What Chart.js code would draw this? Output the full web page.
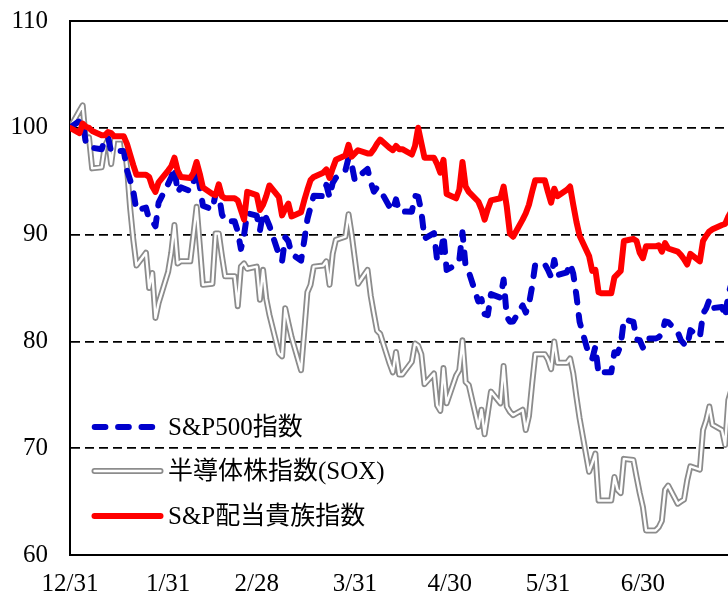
<!DOCTYPE html>
<html><head><meta charset="utf-8">
<script src="https://cdn.jsdelivr.net/npm/chart.js@4.4.1/dist/chart.umd.min.js"></script>
<style>
html,body{margin:0;padding:0;background:#fff;overflow:hidden;}
#wrap{position:relative;width:760px;height:593px;}
#c{position:absolute;left:0;top:0;}
.lg{position:absolute;left:0;top:0;width:760px;height:593px;pointer-events:none;}
.lt{position:absolute;left:168px;font-size:25px;line-height:30px;font-family:"Liberation Serif","Noto Sans CJK JP",serif;color:#000;white-space:nowrap;}
</style></head>
<body>
<div id="wrap">
<canvas id="c" width="760" height="593"></canvas>
<svg class="lg" width="760" height="593" xmlns="http://www.w3.org/2000/svg">
 <line x1="94.7" y1="427" x2="160" y2="427" stroke="#0000cc" stroke-width="6" stroke-linecap="round" stroke-dasharray="10.7 12.7"/>
 <line x1="94.5" y1="471" x2="160.5" y2="471" stroke="#8c8c8c" stroke-width="6" stroke-linecap="round"/>
 <line x1="94.5" y1="471" x2="160.5" y2="471" stroke="#ffffff" stroke-width="2.4" stroke-linecap="round"/>
 <line x1="94.5" y1="516" x2="160.5" y2="516" stroke="#ff0000" stroke-width="6" stroke-linecap="round"/>
</svg>
<div class="lt" style="top:412px">S&amp;P500指数</div>
<div class="lt" style="top:456px">半導体株指数(SOX)</div>
<div class="lt" style="top:501px">S&amp;P配当貴族指数</div>
</div>
<script>
// calendar days since 2021-12-31 (weekdays, holidays carried forward)
const days = [0,
3,4,5,6,7, 10,11,12,13,14, 17,18,19,20,21, 24,25,26,27,28,
31,32,33,34,35, 38,39,40,41,42, 45,46,47,48,49, 52,53,54,55,56,
59,60,61,62,63, 66,67,68,69,70, 73,74,75,76,77, 80,81,82,83,84,
87,88,89,90,91, 94,95,96,97,98, 101,102,103,104,105, 108,109,110,111,112,
115,116,117,118,119, 122,123,124,125,126, 129,130,131,132,133, 136,137,138,139,140,
143,144,145,146,147, 150,151,152,153,154, 157,158,159,160,161, 164,165,166,167,168,
171,172,173,174,175, 178,179,180,181,182, 185,186,187,188,189, 192,193,194,195,196,
199,200,201,202,203, 206,207,208,209];

const sp500 = [100,
100.64,100.57,98.62,98.53,98.13, 97.99,98.89,99.16,97.75,97.83, 97.83,96.03,95.10,94.05,92.27, 92.53,91.40,91.27,90.78,92.99,
94.74,95.39,96.29,93.94,94.43, 94.08,94.87,96.24,94.50,92.71, 92.35,93.81,93.89,91.90,91.25, 91.25,90.32,88.66,89.98,92.00,
91.77,90.35,92.04,91.55,90.83, 88.14,87.51,89.76,89.37,88.21, 87.56,89.43,91.43,92.56,93.64, 93.60,94.66,93.50,94.84,95.32,
96.00,97.18,96.57,95.05,95.38, 96.15,94.94,94.02,94.42,94.17, 92.58,92.26,93.30,92.16,92.16, 92.14,93.62,93.56,92.19,89.63,
90.14,87.60,87.78,89.96,86.69, 87.18,87.61,90.22,87.01,86.51, 83.74,83.95,82.56,82.46,84.43, 84.09,85.79,82.32,81.84,81.86,
83.37,82.70,83.48,85.14,87.24, 87.24,86.70,86.05,87.63,86.20, 86.47,87.30,86.35,84.30,81.84, 78.67,78.37,79.52,76.93,77.10,
77.10,78.99,78.89,79.64,82.07, 81.83,80.18,80.12,79.42,80.26, 80.26,80.39,80.68,81.88,81.81, 80.87,80.12,79.77,79.53,81.06,
80.38,82.60,83.08,83.90,83.12, 83.23,82.27,84.42,85.44];

const sox = [100,
101.6,102.1,98.8,99.1,96.2, 96.3,98.3,98.9,96.6,98.9, 98.9,96.3,92.5,89.5,87.1, 88.3,85.0,86.4,82.2,83.6,
86.5,88.3,90.9,87.3,87.5, 87.5,90.0,92.6,89.0,85.3, 85.4,90.1,90.1,88.0,86.1, 86.1,83.3,87.0,87.3,86.8,
87.0,83.9,86.7,84.0,82.5, 78.9,78.6,83.1,81.7,80.4, 77.3,80.9,84.6,85.3,87.0, 87.1,87.5,85.3,88.2,89.5,
89.8,91.9,90.0,87.7,85.4, 86.7,84.3,82.6,81.0,80.7, 77.9,77.1,79.0,76.9,76.9, 78.1,79.8,79.6,78.8,76.0,
77.0,74.0,73.5,77.5,74.2, 76.8,77.3,80.1,76.2,75.9, 72.0,73.6,71.3,73.3,75.3, 74.2,77.7,73.9,73.4,73.1,
73.6,71.7,73.0,76.0,78.8, 78.8,78.3,77.4,80.0,78.0, 78.0,78.4,77.0,74.8,72.8, 67.8,68.6,69.5,65.1,65.1,
65.1,67.3,66.1,65.8,69.0, 68.9,67.3,65.8,64.5,62.3, 62.3,62.6,63.2,66.1,66.5, 64.8,65.0,65.2,67.0,68.3,
68.0,71.7,72.6,73.9,72.2, 71.7,70.3,74.5,75.5];

const aristocrats = [100,
99.5,100.4,100.1,100.0,99.7, 99.3,99.3,99.6,99.5,99.2, 99.2,98.5,97.5,96.5,95.6, 95.6,95.4,94.5,94.0,94.9,
96.0,96.4,97.2,96.0,95.4, 95.3,95.8,96.8,95.7,94.4, 93.8,93.7,94.7,93.6,93.4, 93.4,93.2,92.3,91.4,94.0,
93.7,92.3,92.8,93.6,94.6, 93.5,91.8,92.4,92.9,91.7, 92.1,93.2,94.2,95.1,95.4, 95.8,96.1,95.3,96.2,97.0,
97.4,98.4,97.3,97.6,97.9, 97.6,97.6,98.0,98.5,98.9, 98.1,97.9,98.3,98.0,98.0, 97.5,98.3,100.0,98.6,97.2,
97.2,96.6,95.8,97.0,93.8, 93.4,94.2,96.8,94.5,94.0, 93.1,92.4,91.4,92.4,93.2, 93.4,94.5,92.6,90.1,89.8,
91.4,92.0,92.8,94.0,95.1, 95.1,94.0,93.0,94.3,93.6, 94.2,94.5,92.8,91.2,89.9, 88.0,86.6,86.7,84.6,84.5,
84.5,86.0,86.3,86.6,89.4, 89.6,89.4,88.3,87.8,88.9, 88.9,89.0,88.4,89.2,88.7, 88.4,88.1,87.7,87.2,88.2,
87.5,89.4,89.9,90.3,90.5, 90.9,91.0,91.7,92.2];

const tickDays = [0,31,59,90,120,151,181];
const tickLabels = ['12/31','1/31','2/28','3/31','4/30','5/31','6/30'];
const yMin = 60, yMax = 110, yStep = 10;

const pts = arr => days.map((d,i)=>({x:d, y:arr[i]}));
const FONT = '"Liberation Serif","Noto Sans CJK JP",serif';

const topLine = {
  id:'topLine',
  beforeDatasetsDraw(chart){
    const {ctx, chartArea, scales} = chart;
    const y = scales.y.getPixelForValue(yMax);
    ctx.save();
    ctx.strokeStyle = '#000'; ctx.lineWidth = 2;
    ctx.beginPath(); ctx.moveTo(chartArea.left, y); ctx.lineTo(chartArea.right, y); ctx.stroke();
    ctx.restore();
  }
};

new Chart(document.getElementById('c'), {
  type:'line',
  data:{
    datasets:[
      {label:'S&P配当貴族指数', data:pts(aristocrats), borderColor:'#ff0000', borderWidth:6, order:0,
       borderJoinStyle:'round', borderCapStyle:'round'},
      {label:'S&P500指数', data:pts(sp500), borderColor:'#0000cc', borderWidth:6, order:1,
       borderDash:[10.7,12.7], borderCapStyle:'round', borderJoinStyle:'round'},
      {label:'半導体株指数(SOX)', data:pts(sox), borderColor:'#ffffff', borderWidth:2.4, order:2,
       borderJoinStyle:'round'},
      {label:'半導体株指数(SOX)_outer', data:pts(sox), borderColor:'#8c8c8c', borderWidth:6, order:3,
       borderJoinStyle:'round'}
    ]
  },
  options:{
    responsive:false, animation:false, devicePixelRatio:1,
    layout:{padding:{top:21,right:19,left:0,bottom:0}},
    elements:{point:{radius:0}, line:{tension:0, fill:false}},
    plugins:{legend:{display:false}, tooltip:{enabled:false}},
    scales:{
      x:{type:'linear', min:0, max:212,
        afterFit(s){ s.height = 38; s.paddingLeft = 0; s.paddingRight = 0; },
        afterBuildTicks(s){ s.ticks = tickDays.map(v=>({value:v})); },
        grid:{display:false, drawTicks:false},
        border:{display:true, color:'#000', width:2},
        ticks:{autoSkip:false, maxRotation:0, padding:14, color:'#000',
          font:{family:FONT, size:25},
          callback:(v)=>{ const i = tickDays.indexOf(v); return i>=0 ? tickLabels[i] : ''; }}
      },
      y:{min:yMin, max:yMax,
        afterFit(s){ s.width = 70; s.paddingTop = 0; s.paddingBottom = 0; },
        grid:{color:'#000', lineWidth:1.8, drawTicks:false},
        border:{display:true, color:'#000', width:2, dash:[9,5]},
        ticks:{stepSize:yStep, padding:22, color:'#000', font:{family:FONT, size:25}}
      }
    }
  },
  plugins:[topLine]
});
</script>
</body></html>
